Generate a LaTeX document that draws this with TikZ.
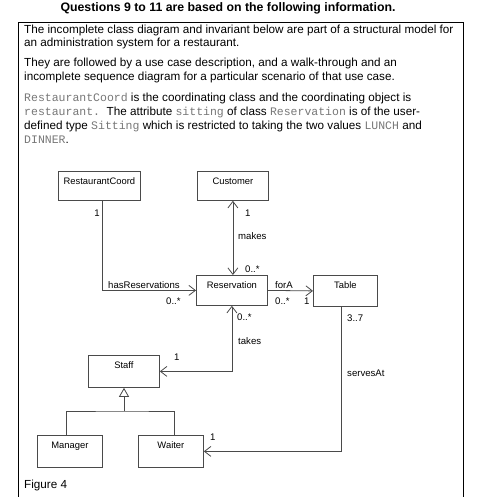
\documentclass[tikz,border=0pt]{standalone}
\usepackage{fontspec}
\setmainfont{Liberation Sans}
\setmonofont{Liberation Mono}
\usetikzlibrary{arrows.meta,calc}
\definecolor{codegray}{HTML}{777777}
\definecolor{ln}{HTML}{4A4A4A}
\newcommand\cdx[1]{{\color{codegray}\fontsize{11.5}{12}\selectfont\ttfamily #1}}
\begin{document}
\begin{tikzpicture}[x=1pt,y=-1pt,
  txt/.style={anchor=base west,inner sep=0pt,font=\fontsize{11.7}{14}\selectfont},
  lbl/.style={inner sep=0pt,font=\fontsize{9.6}{11}\selectfont},
  cls/.style={draw=ln,line width=0.8pt,anchor=north west,inner sep=0pt,text height=13.5pt,font=\fontsize{9.4}{11}\selectfont},
  conn/.style={draw=ln,line width=0.8pt},
  arr/.style={conn,-{Straight Barb[length=6.5pt,width=10pt,line width=0.8pt]}},
  arrb/.style={conn,{Straight Barb[length=6.5pt,width=10pt,line width=0.8pt]}-{Straight Barb[length=6.5pt,width=10pt,line width=0.8pt]}},
  gen/.style={conn,-{Triangle[open,length=9pt,width=10pt,line width=0.8pt,fill=white]}}]
\useasboundingbox (0,0) rectangle (479,497);
% frame
\draw[line width=0.8pt] (18,497) -- (18,22) -- (463,22) -- (463,497);
\node[anchor=base,inner sep=0pt,font=\fontsize{12.3}{14}\selectfont\bfseries] (title) at (228,12) {Questions 9 to 11 are based on the following information.};
% text
\node[txt] (p1a) at (24,33.5) {The incomplete class diagram and invariant below are part of a structural model for};
\node[txt] (p1b) at (24,47) {an administration system for a restaurant.};
\node[txt] (p2a) at (24,67) {They are followed by a use case description, and a walk-through and an};
\node[txt] (p2b) at (24,81) {incomplete sequence diagram for a particular scenario of that use case.};
\node[txt] (p3a) at (24,102) {\cdx{RestaurantCoord} is the coordinating class and the coordinating object is};
\node[txt] (p3b) at (24,115.5) {\cdx{restaurant.}\ \ The attribute \cdx{sitting} of class \cdx{Reservation} is of the user-};
\node[txt] (p3c) at (24,130) {defined type \cdx{Sitting} which is restricted to taking the two values \cdx{LUNCH} and};
\node[txt] (p3d) at (24,144) {\cdx{DINNER}.};
% classes
\node[cls,minimum width=82pt,text depth=15.5pt] (rc) at (58,171) {RestaurantCoord};
\node[cls,minimum width=71pt,text depth=15.5pt] (cust) at (197,171) {Customer};
\node[cls,minimum width=71pt,text depth=16.5pt] (res) at (196,275) {Reservation};
\node[cls,minimum width=64pt,text depth=17.5pt] (tab) at (313,275) {Table};
\node[cls,minimum width=71pt,text depth=18.5pt] (staff) at (88,355) {Staff};
\node[cls,minimum width=65pt,text depth=18.5pt] (mgr) at (37,435) {Manager};
\node[cls,minimum width=65pt,text depth=18.5pt] (wt) at (138,435) {Waiter};
% connectors
\draw[arr] ([xshift=44pt]rc.south west) |- (res.west);
\draw[arrb] (cust.south) -- (cust.south |- res.north);
\draw[arr] (res.east) -- (tab.west);
\draw[arrb] (res.south) |- (staff.east);
\draw[arr] ([xshift=28pt]tab.south west) |- (wt.east);
\coordinate (j) at (124,411);
\draw[conn] ([xshift=29pt]mgr.north west) |- (j) -| ([xshift=36pt]wt.north west);
\draw[gen] (j) -- (j |- staff.south);
% labels
\node[lbl,anchor=base east] (l1) at (100,216.5) {1};
\node[lbl,anchor=base west] (l2) at (245,216.5) {1};
\node[lbl,anchor=base west] (l3) at (238,239.5) {makes};
\node[lbl,anchor=base west] (l4) at (245,272.5) {0..*};
\node[lbl,anchor=base west] (l5) at (108,288.5) {hasReservations};
\node[lbl,anchor=base west] (l6) at (166,304) {0..*};
\node[lbl,anchor=base west] (l7) at (275,288.5) {forA};
\node[lbl,anchor=base west] (l8) at (275,304.5) {0..*};
\node[lbl,anchor=base west] (l9) at (304,304.5) {1};
\node[lbl,anchor=base west] (l10) at (237,320.5) {0..*};
\node[lbl,anchor=base west] (l11) at (238,344.5) {takes};
\node[lbl,anchor=base west] (l12) at (347,321.5) {3..7};
\node[lbl,anchor=base west] (l13) at (347,376.5) {servesAt};
\node[lbl,anchor=base west] (l14) at (174,360.5) {1};
\node[lbl,anchor=base west] (l15) at (210,440.5) {1};
\node[txt] (fig) at (24,488.5) {Figure 4};
\end{tikzpicture}
\end{document}
